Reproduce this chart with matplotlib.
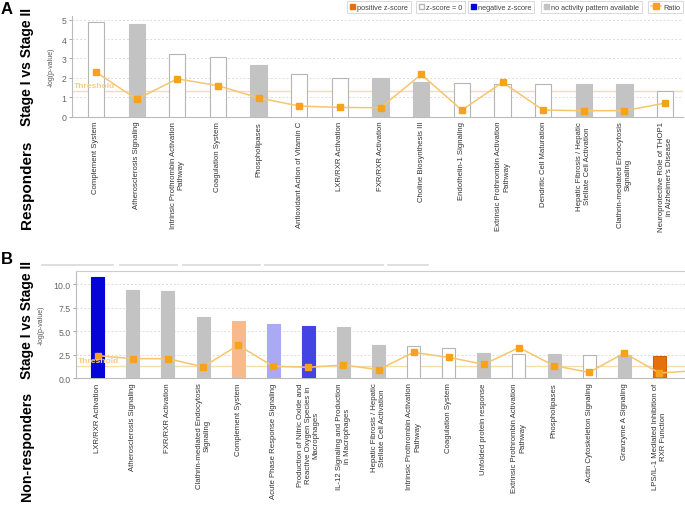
import matplotlib
matplotlib.use("Agg")
import matplotlib.pyplot as plt
from matplotlib.patches import Patch
from matplotlib.lines import Line2D

# ---------------- data ----------------
cats_A = ["Complement System", "Atherosclerosis Signaling",
          "Intrinsic Prothrombin Activation\nPathway", "Coagulation System",
          "Phospholipases", "Antioxidant Action of Vitamin C",
          "LXR/RXR Activation", "FXR/RXR Activation", "Choline Biosynthesis III",
          "Endothelin-1 Signaling", "Extrinsic Prothrombin Activation\nPathway",
          "Dendritic Cell Maturation",
          "Hepatic Fibrosis / Hepatic\nStellate Cell Activation",
          "Clathrin-mediated Endocytosis\nSignaling",
          "Neuroprotective Role of THOP1\nin Alzheimer's Disease"]
logp_A = [4.9, 4.8, 3.25, 3.1, 2.65, 2.2, 2.02, 1.98, 1.77, 1.73, 1.7, 1.7, 1.67, 1.67, 1.32]
ratio_A = [2.3, 0.9, 1.95, 1.6, 0.97, 0.55, 0.48, 0.46, 2.18, 0.34, 1.77, 0.34, 0.31, 0.31, 0.7]
zcat_A = ["zero", "na", "zero", "zero", "na", "zero", "zero", "na", "na",
          "zero", "zero", "zero", "na", "na", "zero"]

cats_B = ["LXR/RXR Activation", "Atherosclerosis Signaling", "FXR/RXR Activation",
          "Clathrin-mediated Endocytosis\nSignaling", "Complement System",
          "Acute Phase Response Signaling",
          "Production of Nitric Oxide and\nReactive Oxygen Species in\nMacrophages",
          "IL-12 Signaling and Production\nin Macrophages",
          "Hepatic Fibrosis / Hepatic\nStellate Cell Activation",
          "Intrinsic Prothrombin Activation\nPathway", "Coagulation System",
          "Unfolded protein response",
          "Extrinsic Prothrombin Activation\nPathway", "Phospholipases",
          "Actin Cytoskeleton Signaling", "Granzyme A Signaling",
          "LPS/IL-1 Mediated Inhibition of\nRXR Function"]
logp_B = [10.7, 9.4, 9.3, 6.5, 6.05, 5.72, 5.55, 5.44, 3.53, 3.39, 3.18, 2.65,
          2.54, 2.54, 2.44, 2.45, 2.33]
ratio_B = [2.4, 2.08, 2.08, 1.23, 3.5, 1.27, 1.17, 1.41, 0.92, 2.75, 2.22, 1.48,
           3.25, 1.34, 0.63, 2.68, 0.56, 0.8]   # last point lies beyond the visible range
bar_colors_B = ["#0505d8", "#c3c3c3", "#c3c3c3", "#c3c3c3", "#f8b98c", "#a9a9f4",
                "#4444e4", "#c3c3c3", "#c3c3c3", "white", "white", "#c3c3c3",
                "white", "#c3c3c3", "white", "#c3c3c3", "#e8700c"]

threshold = 1.3
yticks_A = [0, 1, 2, 3, 4, 5]
yticks_B = [0.0, 2.5, 5.0, 7.5, 10.0]

# ---------------- style ----------------
W, H = 685, 506
fig = plt.figure(figsize=(W / 100, H / 100), dpi=100)
FONT = "Liberation Sans"
plt.rcParams["font.family"] = [FONT, "DejaVu Sans"]

GRAY = "#c3c3c3"
EDGE = "#b5b5b5"
LINE_C = "#f4c66e"
MARK_C = "#f6a21a"
THR_C = "#f6dea8"
ZCOL = {"zero": "white", "na": GRAY, "pos": "#e8700c", "neg": "#0505d8"}


def px_axes(x0, y0, x1, y1):
    return fig.add_axes([x0 / W, 1 - y1 / H, (x1 - x0) / W, (y1 - y0) / H])


def style_axes(ax, cats, logp, ratio, colors, yticks, ylim, xlim, fmt, width, box):
    n = len(cats)
    xs = list(range(n))
    for i in xs:
        c = colors[i]
        ec = EDGE if c == "white" else ("#d06008" if c == "#e8700c" else c)
        ax.bar(i, logp[i], width=width, color=c, edgecolor=ec, linewidth=0.8, zorder=3)
    rx = list(range(len(ratio)))
    ax.plot(rx, ratio, color=LINE_C, lw=1.1, zorder=4, clip_on=True)
    ax.plot(rx, ratio, ls="none", marker="s", ms=4.6, color=MARK_C, zorder=5, clip_on=True)
    ax.axhline(threshold, color=THR_C, lw=1.0, zorder=2)
    ax.text(xlim[0] + 0.05, threshold + 0.02 * (ylim[1]), "Threshold", color="#f5cd85",
            fontsize=6, fontweight="bold", va="bottom", ha="left", zorder=6)
    ax.set_xlim(*xlim)
    ax.set_ylim(*ylim)
    ax.set_yticks(yticks)
    ax.set_yticklabels([fmt.format(v) for v in yticks], fontsize=6.3, color="#666666")
    for v in yticks[1:]:
        ax.axhline(v, color="#dcdcdc", lw=0.7, ls=(0, (2, 2)), zorder=1)
    ax.set_xticks(xs)
    ax.set_xticklabels(cats, rotation=90, fontsize=5.6, color="#333333",
                       va="top", ha="center", multialignment="center")
    ax.tick_params(axis="x", length=0, pad=3)
    ax.tick_params(axis="y", length=2, width=0.6, color="#999999", pad=2)
    for s in ["left", "bottom"]:
        ax.spines[s].set_color("#bbbbbb")
        ax.spines[s].set_linewidth(0.8)
    for s in ["top", "right"]:
        ax.spines[s].set_visible(box)
        ax.spines[s].set_color("#cccccc")
        ax.spines[s].set_linewidth(0.8)
    ax.spines["right"].set_visible(False)
    ax.set_ylabel("-log(p-value)", fontsize=5, color="#555555")


# ---------------- Panel A ----------------
axA = px_axes(72, 16.8, 683, 117.7)
style_axes(axA, cats_A, logp_A, ratio_A, [ZCOL[z] for z in zcat_A], yticks_A,
           (0, 5.2), (-0.59, 14.44), "{:d}", 0.4, False)
axA.yaxis.set_label_coords(-0.028, 0.5)

# legend items (each boxed separately)
leg_items = [
    (Patch(facecolor=ZCOL["pos"], edgecolor=ZCOL["pos"]), "positive z-score", 347),
    (Patch(facecolor="white", edgecolor=EDGE), "z-score = 0", 416),
    (Patch(facecolor=ZCOL["neg"], edgecolor=ZCOL["neg"]), "negative z-score", 468),
    (Patch(facecolor=GRAY, edgecolor=GRAY), "no activity pattern available", 541),
    (Line2D([0], [0], color=LINE_C, marker="s", markersize=4, markerfacecolor=MARK_C,
            markeredgecolor=MARK_C, lw=1.1), "Ratio", 648),
]
for h, lab, x0 in leg_items:
    is_line = isinstance(h, Line2D)
    lg = fig.legend([h], [lab], loc="upper left", bbox_to_anchor=(x0 / W, 1 - 2 / H),
                    fontsize=5.3, frameon=True, fancybox=False, borderpad=0.35,
                    handlelength=1.4 if is_line else 0.7, handleheight=0.7,
                    handletextpad=0.35, borderaxespad=0)
    lg.get_frame().set_edgecolor("#d0d0d0")
    lg.get_frame().set_linewidth(0.7)
    for t in lg.get_texts():
        t.set_color("#444444")

# ---------------- Panel B ----------------
axB = px_axes(76, 272, 685, 379.3)
style_axes(axB, cats_B, logp_B, ratio_B, bar_colors_B, yticks_B,
           (0, 11.38), (-0.62, 16.73), "{:.1f}", 0.37, True)
axB.yaxis.set_label_coords(-0.051, 0.5)

# faint gray segments above panel B
seg_px = [(42, 113), (120, 177), (183, 260), (265, 383), (388, 428)]
for a, b in seg_px:
    fig.add_artist(Line2D([a / W, b / W], [1 - 265.5 / H] * 2, color="#dcdcdc", lw=1.3,
                          transform=fig.transFigure))

# ---------------- side labels ----------------
fig.text(1 / W, 1 - 2 / H, "A", fontsize=12, fontweight="bold", va="top", ha="left")
fig.text(1 / W, 1 - 252 / H, "B", fontsize=12, fontweight="bold", va="top", ha="left")
fig.text(27 / W, 1 - 67.5 / H, "Stage I vs Stage II", rotation=90, fontsize=10,
         fontweight="bold", va="center", ha="center")
fig.text(27 / W, 1 - 185 / H, "Responders", rotation=90, fontsize=11,
         fontweight="bold", va="center", ha="center")
fig.text(27 / W, 1 - 320 / H, "Stage I vs Stage II", rotation=90, fontsize=10,
         fontweight="bold", va="center", ha="center")
fig.text(27 / W, 1 - 446 / H, "Non-responders", rotation=90, fontsize=10.2,
         fontweight="bold", va="center", ha="center")

fig.savefig("out.png", dpi=100)
